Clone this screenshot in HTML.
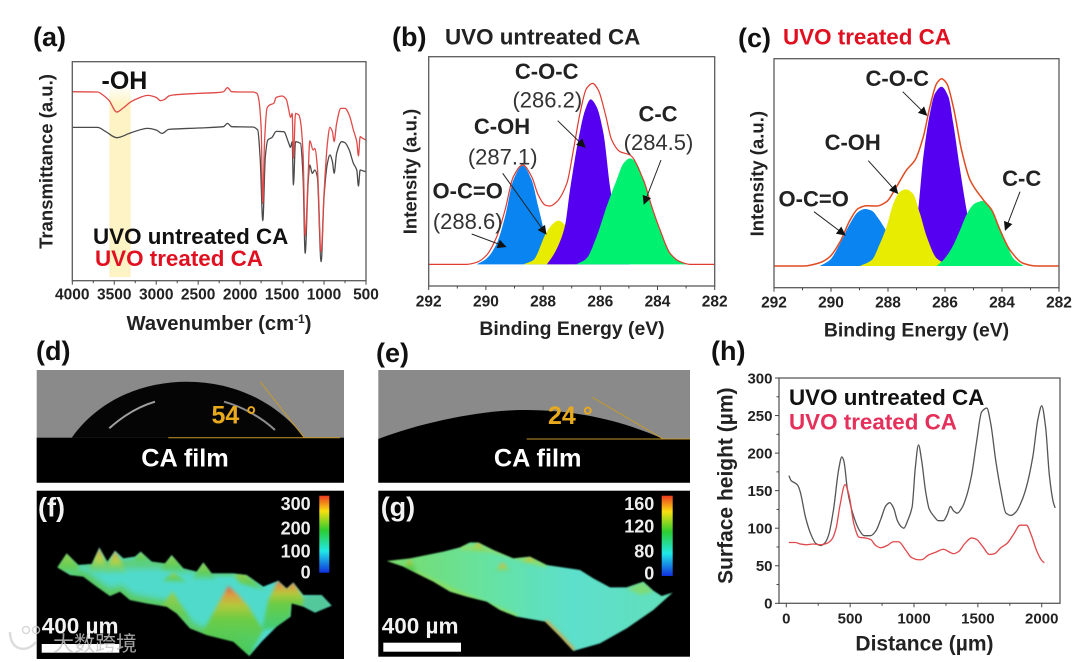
<!DOCTYPE html>
<html lang="en">
<head>
<meta charset="utf-8">
<title>CA film characterisation figure</title>
<style>
html,body{margin:0;padding:0;background:#fff;width:1080px;height:662px;overflow:hidden}
svg{display:block;filter:blur(.35px)}
text{font-family:"Liberation Sans","Noto Sans CJK SC",sans-serif}
.b{font-weight:700}
.lab{font-weight:700;font-size:27px;fill:#111}
.leg{font-weight:700;font-size:22.4px}
.ann{font-weight:700;font-size:22px;fill:#222;text-anchor:middle}
.ann2{font-size:22px;fill:#333;text-anchor:middle}
.ttl{font-weight:700;font-size:19.4px;fill:#222;text-anchor:middle}
.ytl{font-weight:700;font-size:18.5px;fill:#222;text-anchor:middle}
.cb{font-weight:700;font-size:18px;fill:#eee;text-anchor:end}
.arr{stroke:#222;stroke-width:1;fill:none;marker-end:url(#arrow-head)}
</style>
</head>
<body>
<svg id="fig" width="1080" height="662" viewBox="0 0 1080 662" xmlns="http://www.w3.org/2000/svg">
<defs>
<marker id="arrow-head" viewBox="0 0 10 10" refX="9" refY="5" markerWidth="9" markerHeight="9" markerUnits="userSpaceOnUse" orient="auto"><path d="M0 0L10 5L0 10z" fill="#111"/></marker>
<linearGradient id="band-grad" x1="0" y1="0" x2="0" y2="1"><stop offset="0" stop-color="#fdf3c4" stop-opacity="0"/><stop offset=".1" stop-color="#fdf3c4"/><stop offset="1" stop-color="#fdf3c4"/></linearGradient>
<linearGradient id="cbar-grad" x1="0" y1="0" x2="0" y2="1"><stop offset="0" stop-color="#ee3a20"/><stop offset=".2" stop-color="#f8e010"/><stop offset=".45" stop-color="#2ccc30"/><stop offset=".72" stop-color="#20e8e8"/><stop offset="1" stop-color="#1030e0"/></linearGradient>
<linearGradient id="hot" x1="0" y1="0" x2="0" y2="1"><stop offset="0" stop-color="#dc5a44"/><stop offset=".12" stop-color="#e09a40"/><stop offset=".27" stop-color="#b4c83c"/><stop offset=".47" stop-color="#6ccc44"/><stop offset="1" stop-color="#3fc85c" stop-opacity=".75"/></linearGradient>
<linearGradient id="mild" x1="0" y1="0" x2="0" y2="1"><stop offset="0" stop-color="#9ccf48"/><stop offset=".6" stop-color="#62cc58"/><stop offset="1" stop-color="#52d48a" stop-opacity=".5"/></linearGradient>
<linearGradient id="warm" x1="0" y1="0" x2="0" y2="1"><stop offset="0" stop-color="#e09048"/><stop offset=".45" stop-color="#c0d040"/><stop offset="1" stop-color="#5cd470" stop-opacity=".3"/></linearGradient>
<linearGradient id="g-surf" x1="0" y1="0" x2="1" y2="0"><stop offset="0" stop-color="#78dc68"/><stop offset=".35" stop-color="#66e2a0"/><stop offset=".65" stop-color="#5cdfcc"/><stop offset="1" stop-color="#62e0b8"/></linearGradient>
<filter id="soft" x="-20%" y="-20%" width="140%" height="140%"><feGaussianBlur stdDeviation="5"/></filter>
<filter id="softer" x="-20%" y="-20%" width="140%" height="140%"><feGaussianBlur stdDeviation="10"/></filter>
<filter id="edge" x="-5%" y="-5%" width="110%" height="110%"><feGaussianBlur stdDeviation="2.5"/></filter>
<clipPath id="f-clip"><path d="M112 682L140 640L175 675L215 672L238 622L262 665L285 632L310 655L345 650L362 635L395 665L435 670L455 645L490 685L530 695L550 667L575 700L640 700L680 705L730 740L775 722L800 745L820 727L850 765L905 765L935 797L885 818L850 800L815 790L812 830L770 860L725 905L688 948L640 905L560 885L510 865L470 820L440 800L380 790L330 780L300 755L270 768L230 740L190 710L150 705Z"/></clipPath>
<clipPath id="g-clip"><path d="M80 663L150 655L250 635L300 622L330 607L355 607L400 630L460 655L510 650L560 675L660 690L700 715L750 742L800 742L850 725L880 752L905 768L938 758L880 810L800 865L720 910L640 933L600 890L555 845L470 830L420 810L380 785L320 770L270 755L220 725L170 700L130 680Z"/></clipPath>
</defs>

<!-- panel labels -->
<text class="lab" x="33" y="46">(a)</text>
<text class="lab" x="392" y="46">(b)</text>
<text class="lab" x="738" y="47">(c)</text>
<text class="lab" x="36" y="360">(d)</text>
<text class="lab" x="376" y="362">(e)</text>
<text class="lab" x="711" y="360">(h)</text>

<!-- chart a -->
<rect x="109.3" y="85" width="21.4" height="192" fill="url(#band-grad)"/>
<g id="chart-a"></g>
<text class="b" x="101.5" y="89" font-size="25" fill="#111">-OH</text>
<text class="leg" x="93" y="244" fill="#111">UVO untreated CA</text>
<text class="leg" x="95" y="266" fill="#e01020">UVO treated CA</text>
<text class="b" x="219" y="330" font-size="20.2" fill="#222" text-anchor="middle">Wavenumber (cm<tspan dy="-7" font-size="12">-1</tspan><tspan dy="7">)</tspan></text>
<text class="ytl" transform="translate(52.5,161.5) rotate(-90)">Transmittance (a.u.)</text>

<!-- chart b -->
<text class="leg" x="445" y="44.5" fill="#222">UVO untreated CA</text>
<g id="chart-b"></g>
<text class="ttl" x="572" y="335">Binding Energy (eV)</text>
<text class="ytl" transform="translate(416.5,171.5) rotate(-90)">Intensity (a.u.)</text>
<text class="ann" x="546.7" y="79">C-O-C</text>
<text class="ann2" x="547.3" y="107.7">(286.2)</text>
<text class="ann" x="502" y="134">C-OH</text>
<text class="ann2" x="502.7" y="164.3">(287.1)</text>
<text class="ann" x="467.7" y="198.3">O-C=O</text>
<text class="ann2" x="467.7" y="229">(288.6)</text>
<text class="ann" x="658" y="121.7">C-C</text>
<text class="ann2" x="658.5" y="150">(284.5)</text>
<line class="arr" x1="471.7" y1="234" x2="505.7" y2="246.7"/>
<line class="arr" x1="502.7" y1="173.3" x2="546" y2="234"/>
<line class="arr" x1="557.7" y1="120.7" x2="585" y2="147.3"/>
<line class="arr" x1="661" y1="160" x2="644" y2="204"/>

<!-- chart c -->
<text class="leg" x="783" y="44.5" fill="#e01020">UVO treated CA</text>
<g id="chart-c"></g>
<text class="ttl" x="916.5" y="336.7">Binding Energy (eV)</text>
<text class="ytl" transform="translate(763.3,173.7) rotate(-90)">Intensity (a.u.)</text>
<text class="ann" x="897.3" y="86">C-O-C</text>
<text class="ann" x="852.7" y="150">C-OH</text>
<text class="ann" x="813.7" y="206.7">O-C=O</text>
<text class="ann" x="1021.7" y="186">C-C</text>
<line class="arr" x1="814" y1="211.7" x2="845" y2="235"/>
<line class="arr" x1="868.3" y1="160.7" x2="897.7" y2="193.3"/>
<line class="arr" x1="902.7" y1="91.7" x2="926.7" y2="115.3"/>
<line class="arr" x1="1020" y1="191.7" x2="1005.3" y2="230"/>

<!-- contact angle d -->
<g>
<rect x="36.7" y="370" width="307.3" height="112.7" fill="#8a8a8a"/>
<rect x="36.7" y="437.7" width="307.3" height="45" fill="#000"/>
<path d="M71.7 437.7C100 398 145 381.7 186.7 381.7C232 381.7 275 400 304.3 437.7Z" fill="#050505"/>
<path d="M109.3 428.3C123 416 137 407 155 401.7" fill="none" stroke="#a0a0a0" stroke-width="2"/>
<path d="M224 401.7C240 406 260 416 275 430" fill="none" stroke="#8c8c8c" stroke-width="2"/>
<line x1="260" y1="381.7" x2="304.3" y2="437.7" stroke="#c49a2c" stroke-width="1"/>
<line x1="168.3" y1="437.7" x2="340" y2="437.7" stroke="#c49a2c" stroke-width="1"/>
</g>
<text class="b" x="211.5" y="423.3" font-size="25" fill="#e8a91c">54 °</text>
<text class="b" x="185" y="466.7" font-size="25.3" fill="#fff" text-anchor="middle">CA film</text>

<!-- contact angle e -->
<g>
<rect x="378.3" y="370" width="311.7" height="112.7" fill="#8a8a8a"/>
<rect x="378.3" y="439" width="311.7" height="43.7" fill="#000"/>
<path d="M378.3 439C420 423 480 410 525 410C580 410 625 422 663.3 439Z" fill="#000"/>
<line x1="592.3" y1="397.3" x2="663.3" y2="439" stroke="#c49a2c" stroke-width="1"/>
<line x1="526.7" y1="439" x2="690" y2="439" stroke="#c49a2c" stroke-width="1"/>
</g>
<text class="b" x="548" y="424" font-size="25" fill="#e8a91c">24 °</text>
<text class="b" x="537.7" y="466.7" font-size="25.3" fill="#fff" text-anchor="middle">CA film</text>

<!-- surface f -->
<rect x="36.7" y="490.7" width="307.3" height="168.3" fill="#000"/>
<g transform="translate(20,340) scale(.33333)" filter="url(#edge)">
<g clip-path="url(#f-clip)">
<rect x="100" y="600" width="850" height="360" fill="#50dacc"/>
<path d="M150 705L190 710L230 740L270 768L300 755L330 780L380 790L440 800L470 820L510 865L560 885L640 905L688 948" fill="none" stroke="#5cc95a" stroke-width="34" filter="url(#softer)"/>
<path d="M112 682L140 640L215 672L435 670L640 700" fill="none" stroke="#60cc70" stroke-width="26" filter="url(#softer)"/>
<g filter="url(#soft)">
<path d="M105 690L140 640L178 680L165 712Z" fill="url(#mild)"/>
<path d="M205 700L238 620L268 700Z" fill="url(#warm)"/>
<path d="M255 700L285 630L322 700Z" fill="url(#warm)"/>
<path d="M332 672L362 633L398 672Z" fill="url(#mild)"/>
<path d="M420 690L455 643L500 700Z" fill="url(#mild)"/>
<path d="M515 720L550 665L592 720Z" fill="url(#mild)"/>
<path d="M640 705L670 695L740 755L660 730Z" fill="url(#mild)"/>
<path d="M425 725L460 698L505 728Z" fill="url(#mild)"/>
<path d="M415 810L458 755L505 830L520 870L470 830Z" fill="url(#mild)"/>
<path d="M540 890L590 800L625 738L650 760L682 795L730 870L688 950L640 910Z" fill="url(#hot)"/>
<path d="M725 870L745 780L775 720L800 745L820 725L852 775L860 805L815 795L812 835L770 865Z" fill="url(#hot)"/>
<path d="M850 770L905 762L938 797L885 820L850 802Z" fill="#52c89a"/>
</g>
</g>
</g>
<text class="b" x="38" y="516.7" font-size="27" fill="#f2f2f2">(f)</text>
<rect x="319.3" y="495.7" width="10" height="77" fill="url(#cbar-grad)"/>
<text class="cb" x="310.7" y="510">300</text>
<text class="cb" x="310.7" y="534.3">200</text>
<text class="cb" x="310.7" y="557.3">100</text>
<text class="cb" x="310.7" y="578.3">0</text>
<text class="b" x="41.7" y="633.3" font-size="22.5" fill="#f2f2f2">400 µm</text>
<rect x="41.7" y="644" width="77.6" height="8.7" fill="#fff"/>

<!-- surface g -->
<rect x="378.3" y="490.7" width="311.7" height="166" fill="#000"/>
<g transform="translate(360,340) scale(.33333)" filter="url(#edge)">
<g clip-path="url(#g-clip)">
<rect x="70" y="600" width="880" height="340" fill="url(#g-surf)"/>
<path d="M555 845L600 890L640 933" fill="none" stroke="#c8a84c" stroke-width="16" filter="url(#soft)"/>
<path d="M300 622L400 630L560 675" fill="none" stroke="#8ade70" stroke-width="16" filter="url(#soft)"/>
<path d="M130 680L220 725L320 770L470 830" fill="none" stroke="#8ade60" stroke-width="14" filter="url(#soft)"/>
<g filter="url(#soft)">
<path d="M125 695L148 658L172 695Z" fill="url(#hot)"/>
<path d="M332 632L355 605L382 634Z" fill="url(#warm)"/>
<path d="M402 694L428 668L452 694Z" fill="url(#warm)"/>
<path d="M484 668L510 648L538 672Z" fill="url(#warm)"/>
<path d="M800 745L850 725L882 755L840 765Z" fill="#7cdc78"/>
</g>
</g>
</g>
<text class="b" x="380.7" y="516" font-size="27" fill="#f2f2f2">(g)</text>
<rect x="661.7" y="495.7" width="11" height="80.3" fill="url(#cbar-grad)"/>
<text class="cb" x="654.3" y="510">160</text>
<text class="cb" x="654.3" y="532.7">120</text>
<text class="cb" x="654.3" y="557.3">80</text>
<text class="cb" x="654.3" y="579.3">0</text>
<text class="b" x="381.7" y="633.3" font-size="22.5" fill="#f2f2f2">400 µm</text>
<rect x="383.3" y="642.7" width="77.7" height="9" fill="#fff"/>

<!-- chart h -->
<g id="chart-h"></g>
<text class="leg" x="789" y="405" fill="#111">UVO untreated CA</text>
<text class="leg" x="789" y="429.3" fill="#e4305a">UVO treated CA</text>
<text class="b" x="924.5" y="650.7" font-size="21" fill="#222" text-anchor="middle">Distance (µm)</text>
<text class="b" font-size="21" fill="#222" text-anchor="middle" transform="translate(732.7,485.7) rotate(-90)">Surface height (µm)</text>

<!-- watermark -->
<g opacity=".8">
<circle cx="26" cy="630" r="3.5" fill="none" stroke="#cfcfcf" stroke-width="1.5"/>
<circle cx="36" cy="630" r="3.5" fill="none" stroke="#cfcfcf" stroke-width="1.5"/>
<path d="M10 632C10 650 26 654 36 642" fill="none" stroke="#d4d4d4" stroke-width="2.5"/>
<text x="53" y="651" font-size="21" fill="#c8c8c8">大数跨境</text>
</g>

<script>
/* Panel (a) FTIR */
const ftirTreatedWavenumber = [4000,3700,3620,3560,3470,3400,3300,3200,3100,3000,2950,2900,2850,2800,2500,2300,2200,2150,2100,2000,1850,1800,1780,1750,1730,1710,1680,1650,1600,1570,1500,1450,1420,1400,1380,1365,1340,1300,1280,1250,1225,1190,1170,1130,1110,1080,1035,1000,960,930,900,880,850,800,750,700,650,610,590,570,540,500];
const ftirTreatedValues = [567,566,554,540,506,517,537,549,556,550,540,544,554,557,562,564,567,579,567,566,566,562,547,462,232,412,517,527,532,550,554,544,512,490,502,367,502,497,477,382,134,312,420,392,397,342,87,262,412,460,447,417,472,517,517,497,452,417,374,432,427,422];
const ftirUntreatedWavenumber = [4000,3700,3600,3470,3300,3100,3000,2930,2850,2500,2200,2150,2100,1850,1790,1760,1730,1700,1670,1620,1570,1480,1420,1400,1380,1365,1340,1280,1250,1225,1190,1170,1140,1110,1080,1035,1000,960,930,900,880,850,790,750,700,650,610,590,570,540,500];
const ftirUntreatedValues = [460,460,447,429,444,457,452,442,454,458,462,472,462,461,452,362,180,372,422,430,448,447,412,400,417,287,417,412,312,82,292,347,322,332,312,57,252,352,377,357,322,382,417,414,392,352,332,284,332,330,327];
const ftirTicks = ["4000","3500","3000","2500","2000","1500","1000","500"];

/* Panel (b) XPS, untreated */
const bBlueE = [290.32,289.97,289.62,289.33,289.04,288.71,288.40,288.17,287.87,287.52,287.17];
const bBlueI = [0,18,63,143,253,296,253,173,73,13,0];
const bYellowE = [288.69,288.34,287.90,287.64,287.47,287.23,287.0,286.71,286.36];
const bYellowI = [0,13,93,123,131,118,73,13,0];
const bPurpleE = [287.87,287.64,287.41,287.23,287.06,286.77,286.53,286.34,286.13,285.89,285.66,285.43,285.19,284.96];
const bPurpleI = [0,28,68,118,223,373,463,495,473,393,233,113,33,0];
const bGreenE = [286.83,286.48,286.13,285.78,285.43,285.19,284.96,284.73,284.49,284.2,283.91,283.56,283.21,282.98];
const bGreenI = [0,18,83,173,253,303,318,303,253,173,103,33,8,0];
const bEnvE = [292,290.67,290.32,289.97,289.62,289.33,289.04,288.71,288.40,288.17,287.93,287.76,287.52,287.17,286.94,286.71,286.48,286.27,286.07,285.83,285.60,285.31,284.96,284.49,284.20,283.91,283.56,283.21,282.86,282];
const bEnvI = [0,0,6,28,83,163,263,298,263,208,178,175,188,243,343,453,528,543,523,453,373,338,328,253,173,103,33,8,0,0];

/* Panel (c) XPS, treated */
const cBlueE = [290.39,290.04,289.68,289.33,289.04,288.81,288.57,288.34,288.07,287.81,287.46,287.23];
const cBlueI = [0,18,68,128,163,171,166,143,106,58,13,0];
const cYellowE = [288.98,288.57,288.28,288.05,287.81,287.58,287.37,287.13,286.88,286.64,286.29,285.82];
const cYellowI = [0,18,68,118,188,223,230,218,158,88,23,0];
const cPurpleE = [287.23,286.94,286.76,286.53,286.35,286.12,285.88,285.71,285.47,285.22,285.0,284.65,284.3];
const cPurpleI = [0,168,328,458,518,538,508,428,288,158,78,18,0];
const cGreenE = [286.29,286.06,285.77,285.47,285.22,284.95,284.65,284.42,284.19,283.89,283.60,283.25];
const cGreenI = [0,18,53,108,158,188,195,178,138,78,23,0];
const cEnvE = [292,290.97,290.39,290.04,289.68,289.33,289.04,288.75,288.40,288.05,287.70,287.35,287.05,286.76,286.53,286.29,286.12,285.94,285.71,285.42,285.12,284.65,284.36,284.07,283.72,283.25,282.78,282];
const cEnvI = [0,0,10,28,73,138,173,181,180,193,238,288,318,388,478,548,562,548,478,348,258,198,168,108,48,8,0,0];
const xpsTicks = ["292","290","288","286","284","282"];

/* Panel (h) surface height profile */
const hUntreatedDistance = [20,40,70,90,110,150,190,230,270,300,330,370,410,435,450,480,520,570,610,660,700,740,780,810,840,870,900,920,950,985,1010,1035,1060,1090,1120,1160,1190,1230,1260,1285,1310,1340,1375,1410,1450,1490,1530,1570,1600,1640,1680,1720,1760,1800,1840,1880,1930,1970,2000,2030,2060,2090,2105];
const hUntreatedHeight = [170,163,160,157,148,115,93,80,77,80,90,125,178,195,190,150,120,98,90,90,96,112,130,134,127,110,102,100,110,128,180,211,190,150,125,115,110,110,118,129,123,120,127,142,170,215,255,260,240,190,150,120,117,122,135,155,195,245,263,235,170,135,127];
const hTreatedDistance = [20,70,110,160,210,270,320,360,390,420,460,490,530,570,620,660,700,740,790,840,880,930,980,1030,1060,1110,1170,1230,1280,1310,1350,1400,1450,1490,1540,1590,1630,1680,1730,1780,1830,1880,1920,1960,2000,2020];
const hTreatedHeight = [81,81,79,78,79,78,80,86,100,130,158,145,105,88,87,85,77,74,77,82,82,72,61,58,58,64,68,72,68,66,69,80,87,85,75,65,66,74,80,92,104,104,90,70,57,54];
const hXTicks = ["0","500","1000","1500","2000"];
const hYTicks = ["0","50","100","150","200","250","300"];

const NS = "http://www.w3.org/2000/svg";
function scale(d0, d1, r0, r1) { return v => r0 + (v - d0) / (d1 - d0) * (r1 - r0); }
function mk(tag, parent) { const e = document.createElementNS(NS, tag); parent.appendChild(e); return e; }
function curve(px, py) {
  const n = px.length, d = [], m = [];
  for (let i = 0; i < n - 1; i++) d.push((py[i + 1] - py[i]) / ((px[i + 1] - px[i]) || 1));
  m[0] = d[0]; m[n - 1] = d[n - 2];
  for (let i = 1; i < n - 1; i++) m[i] = d[i - 1] * d[i] <= 0 ? 0 : 2 * d[i - 1] * d[i] / (d[i - 1] + d[i]);
  let s = "M" + px[0].toFixed(2) + " " + py[0].toFixed(2);
  for (let i = 0; i < n - 1; i++) {
    const h = (px[i + 1] - px[i]) / 3;
    s += "C" + (px[i] + h).toFixed(2) + " " + (py[i] + m[i] * h).toFixed(2) + " " + (px[i + 1] - h).toFixed(2) + " " + (py[i + 1] - m[i + 1] * h).toFixed(2) + " " + px[i + 1].toFixed(2) + " " + py[i + 1].toFixed(2);
  }
  return s;
}
function drawLine(g, name, xs, ys, X, Y, color, width) {
  const p = mk("path", g);
  
  
  p.setAttribute("d", curve(xs.map(X), ys.map(Y)));
  p.setAttribute("fill", "none");
  p.setAttribute("stroke", color);
  p.setAttribute("stroke-width", width);
  p.setAttribute("stroke-linejoin", "round");
}
function drawArea(g, name, xs, ys, X, Y, color) {
  const p = mk("path", g), px = xs.map(X), base = Y(0);
  
  
  p.setAttribute("d", curve(px, ys.map(Y)) + "L" + px[px.length - 1] + " " + base + "L" + px[0] + " " + base + "Z");
  p.setAttribute("fill", color);
}
function drawFrame(g, box) {
  const r = mk("rect", g);
  
  
  r.setAttribute("x", box.l); r.setAttribute("y", box.t);
  r.setAttribute("width", box.r - box.l); r.setAttribute("height", box.b - box.t);
  r.setAttribute("fill", "none"); r.setAttribute("stroke", "#5a5a5a"); r.setAttribute("stroke-width", "1.3");
}
function tick(g, name, x1, y1, x2, y2) {
  const l = mk("line", g);
  
  
  l.setAttribute("x1", x1); l.setAttribute("y1", y1); l.setAttribute("x2", x2); l.setAttribute("y2", y2);
  l.setAttribute("stroke", "#444"); l.setAttribute("stroke-width", "1");
}
function tickLabel(g, name, x, y, str, size, anchor) {
  const t = mk("text", g);
  
  
  t.setAttribute("x", x); t.setAttribute("y", y);
  t.setAttribute("font-size", size); t.setAttribute("font-weight", "700");
  t.setAttribute("fill", "#222"); t.setAttribute("text-anchor", anchor);
  t.textContent = str;
}
function xAxis(g, labels, X, box, labelY, size) {
  labels.forEach((lab, i) => {
    const v = +lab, px = X(v);
    tick(g, "x-tick-" + lab, px, box.b, px, box.b + 4);
    tickLabel(g, "x-tick-label-" + lab, px, labelY, lab, size, "middle");
    if (i < labels.length - 1) {
      const mid = X((v + +labels[i + 1]) / 2);
      tick(g, "x-minor-tick", mid, box.b, mid, box.b + 2.5);
    }
  });
}
function yAxis(g, labels, Y, box, labelX, size) {
  labels.forEach((lab, i) => {
    const v = +lab, py = Y(v);
    tick(g, "y-tick-" + lab, box.l, py, box.l - 4, py);
    tickLabel(g, "y-tick-label-" + lab, labelX, py + size * 0.36, lab, size, "end");
    if (i < labels.length - 1) {
      const mid = Y((v + +labels[i + 1]) / 2);
      tick(g, "y-minor-tick", box.l, mid, box.l - 2.5, mid);
    }
  });
}

/* chart a */
(function () {
  const g = document.getElementById("chart-a");
  const box = { l: 72.3, r: 366, t: 61.7, b: 280.7 };
  const X = scale(4000, 500, box.l, box.r), Y = scale(0, 657, box.b, box.t);
  drawLine(g, "series-untreated-ftir", ftirUntreatedWavenumber, ftirUntreatedValues, X, Y, "#4a4a4a", 1.3);
  drawLine(g, "series-treated-ftir", ftirTreatedWavenumber, ftirTreatedValues, X, Y, "#e04a48", 1.3);
  drawFrame(g, box);
  xAxis(g, ftirTicks, X, box, 299.3, 15.5);
})();

/* chart b */
(function () {
  const g = document.getElementById("chart-b");
  const box = { l: 428.7, r: 714.7, t: 56.7, b: 286 };
  const X = scale(292, 282, box.l, box.r), Y = scale(-65, 623, box.b, box.t);
  drawArea(g, "peak-oco-b", bBlueE, bBlueI, X, Y, "#0a84f0");
  drawArea(g, "peak-coh-b", bYellowE, bYellowI, X, Y, "#e8ec00");
  drawArea(g, "peak-coc-b", bPurpleE, bPurpleI, X, Y, "#5500f0");
  drawArea(g, "peak-cc-b", bGreenE, bGreenI, X, Y, "#00f070");
  drawLine(g, "envelope-b", bEnvE, bEnvI, X, Y, "#e03a30", 1.2);
  drawFrame(g, box);
  xAxis(g, xpsTicks, X, box, 306.7, 15.5);
})();

/* chart c */
(function () {
  const g = document.getElementById("chart-c");
  const box = { l: 774, r: 1059, t: 58.7, b: 287.7 };
  const X = scale(292, 282, box.l, box.r), Y = scale(-65, 622, box.b, box.t);
  drawArea(g, "peak-coc-c", cPurpleE, cPurpleI, X, Y, "#5500f0");
  drawArea(g, "peak-oco-c", cBlueE, cBlueI, X, Y, "#0a84f0");
  drawArea(g, "peak-coh-c", cYellowE, cYellowI, X, Y, "#e8ec00");
  drawArea(g, "peak-cc-c", cGreenE, cGreenI, X, Y, "#00f070");
  drawLine(g, "envelope-c", cEnvE, cEnvI, X, Y, "#e04a20", 1.5);
  drawFrame(g, box);
  xAxis(g, xpsTicks, X, box, 307.7, 15.5);
})();

/* chart h */
(function () {
  const g = document.getElementById("chart-h");
  const box = { l: 779, r: 1060, t: 378, b: 603.3 };
  const X = scale(-57, 2143, box.l, box.r), Y = scale(0, 300, box.b, box.t);
  drawLine(g, "series-untreated-height", hUntreatedDistance, hUntreatedHeight, X, Y, "#555", 1.3);
  drawLine(g, "series-treated-height", hTreatedDistance, hTreatedHeight, X, Y, "#e0484c", 1.3);
  drawFrame(g, box);
  xAxis(g, hXTicks, X, box, 623.3, 15);
  yAxis(g, hYTicks, Y, box, 772.5, 15);
})();
</script>
</svg>
</body>
</html>
